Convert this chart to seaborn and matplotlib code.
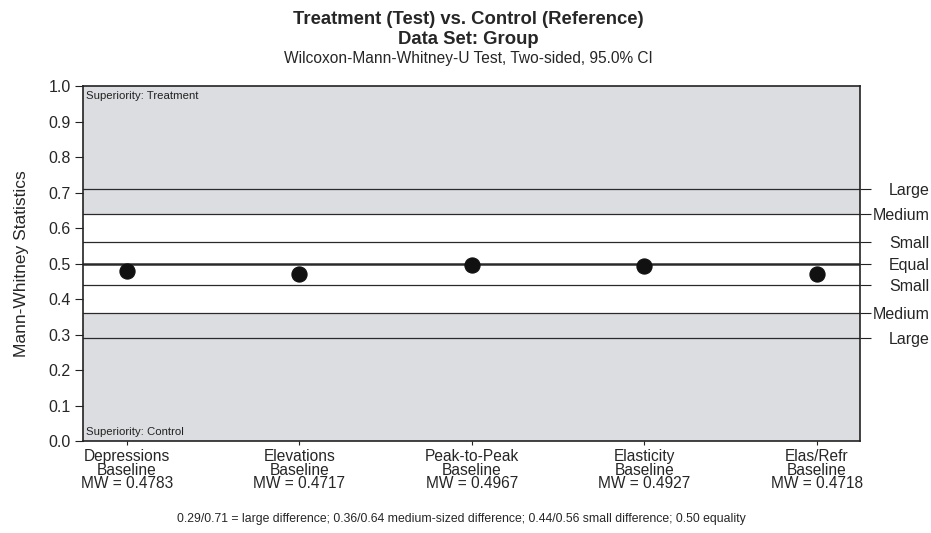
import matplotlib
matplotlib.use("Agg")
import matplotlib.pyplot as plt
import seaborn as sns
import pandas as pd

categories = ["Depressions\nBaseline", "Elevations\nBaseline", "Peak-to-Peak\nBaseline",
              "Elasticity\nBaseline", "Elas/Refr\nBaseline"]
mw_values = [0.4783, 0.4717, 0.4967, 0.4927, 0.4718]
ref_values = [0.71, 0.64, 0.56, 0.50, 0.44, 0.36, 0.29]
ref_labels = ["Large", "Medium", "Small", "Equal", "Small", "Medium", "Large"]
y_ticks = [0.0, 0.1, 0.2, 0.3, 0.4, 0.5, 0.6, 0.7, 0.8, 0.9, 1.0]

sns.set_style("ticks")
plt.rcParams['font.family'] = ['Liberation Sans', 'DejaVu Sans']

df = pd.DataFrame({"pos": range(len(categories)), "mw": mw_values})

fig = plt.figure(figsize=(9.31, 5.33), dpi=100)
ax = fig.add_axes([0.0892, 0.1726, 0.8345, 0.666])
ax.set_facecolor("#dcdde0")
ax.set_xlim(-0.255, 4.25)
ax.set_ylim(0, 1)

ax.axhspan(0.36, 0.64, color="white", zorder=0.5, lw=0)
for v in ref_values:
    lw = 1.8 if v == 0.50 else 0.9
    ax.axhline(v, color="#2a2a2a", lw=lw, zorder=1)

sns.scatterplot(data=df, x="pos", y="mw", ax=ax, s=118, color="#111111",
                edgecolor="#111111", zorder=3, legend=False)

ax.set_xticks(range(len(categories)))
ax.set_xticklabels([f"{c}\nMW = {v:.4f}" for c, v in zip(categories, mw_values)],
                   fontsize=11.2, linespacing=0.86)
ax.tick_params(axis="x", length=3, color="#222222", pad=3)
ax.set_yticks(y_ticks)
ax.set_yticklabels([f"{t:.1f}" for t in y_ticks], fontsize=11.5)
ax.tick_params(axis="y", length=6, color="#222222", pad=3)
ax.set_xlabel("")
ax.set_ylabel("Mann-Whitney Statistics", fontsize=12.5, labelpad=14)
for s in ax.spines.values():
    s.set_color("#222222")
    s.set_linewidth(1.2)

ax2 = ax.twinx()
ax2.set_ylim(0, 1)
ax2.set_yticks(ref_values)
ax2.set_yticklabels(ref_labels, fontsize=11.5)
ax2.tick_params(axis="y", length=8, color="#222222")
for lab in ax2.get_yticklabels():
    lab.set_horizontalalignment("right")
ax2.yaxis.set_tick_params(pad=42)
for s in ax2.spines.values():
    s.set_visible(False)

ax.text(0.004, 0.985, "Superiority: Treatment", transform=ax.transAxes, fontsize=8.2,
        va="top", ha="left", color="#222222")
ax.text(0.004, 0.012, "Superiority: Control", transform=ax.transAxes, fontsize=8.2,
        va="bottom", ha="left", color="#222222")

fig.text(0.503, 0.955, "Treatment (Test) vs. Control (Reference)", ha="center",
         fontsize=13.3, fontweight="bold")
fig.text(0.503, 0.918, "Data Set: Group", ha="center", fontsize=13.3, fontweight="bold")
fig.text(0.503, 0.882, "Wilcoxon-Mann-Whitney-U Test, Two-sided, 95.0% CI", ha="center",
         fontsize=11.2)
fig.text(0.496, 0.021, "0.29/0.71 = large difference; 0.36/0.64 medium-sized difference; "
         "0.44/0.56 small difference; 0.50 equality", ha="center", fontsize=8.8)

fig.savefig("out.png", dpi=100)
